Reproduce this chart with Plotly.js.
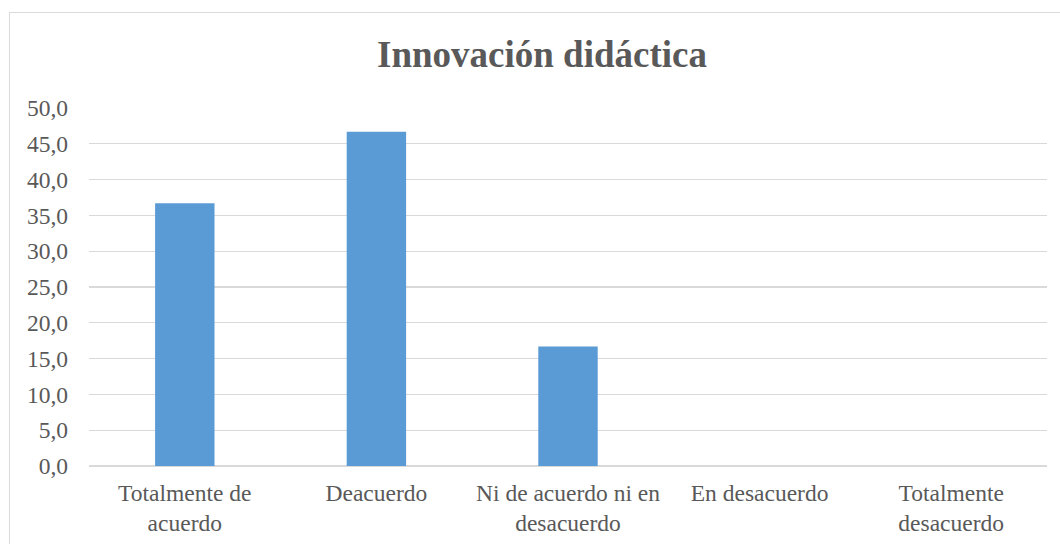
<!DOCTYPE html>
<html>
<head>
<meta charset="utf-8">
<script src="https://cdn.plot.ly/plotly-3.0.1.min.js"></script>
<style>
html,body{margin:0;padding:0;overflow:hidden;background:#fff;}
#chart{position:absolute;left:0;top:0;width:1060px;height:544px;}
#frame{position:absolute;left:9px;top:12px;width:1100px;height:600px;border:1px solid #d9d9d9;pointer-events:none;}
</style>
</head>
<body>
<div id="chart"></div>
<div id="frame"></div>
<script>
const categories = ["Totalmente de<br>acuerdo", "Deacuerdo", "Ni de acuerdo ni en<br>desacuerdo", "En desacuerdo", "Totalmente<br>desacuerdo"];
const values = [36.7, 46.7, 16.7, 0, 0];
const tickVals = [0, 5, 10, 15, 20, 25, 30, 35, 40, 45, 50];
const tickText = ["0,0", "5,0", "10,0", "15,0", "20,0", "25,0", "30,0", "35,0", "40,0", "45,0", "50,0"];
const chartTitle = "Innovación didáctica";

const font = "'Liberation Serif', 'Times New Roman', serif";
const textColor = "#595959";

Plotly.newPlot("chart", [{
  type: "bar",
  x: categories,
  y: values,
  marker: {color: "#5B9BD5"},
  hoverinfo: "x+y"
}], {
  width: 1060,
  height: 544,
  margin: {l: 89, r: 13, t: 108, b: 78, pad: 0},
  paper_bgcolor: "#ffffff",
  plot_bgcolor: "#ffffff",
  bargap: 0.69,
  showlegend: false,
  title: {
    text: "<b>" + chartTitle + "</b>",
    font: {family: font, size: 37, color: textColor},
    x: 542 / 1060,
    xref: "container",
    xanchor: "center",
    y: 1 - 54 / 544,
    yref: "container",
    yanchor: "middle"
  },
  xaxis: {
    type: "category",
    tickfont: {family: font, size: 23.5, color: textColor},
    showgrid: false,
    showline: false,
    ticks: "",
    ticklabelstandoff: 10,
    automargin: false,
    tickangle: 0
  },
  yaxis: {
    range: [0, 50],
    tickvals: tickVals,
    ticktext: tickText,
    tickfont: {family: font, size: 23.5, color: textColor},
    showgrid: true,
    gridcolor: "#d9d9d9",
    gridwidth: 1.3,
    zeroline: true,
    zerolinecolor: "#d9d9d9",
    zerolinewidth: 1.3,
    showline: false,
    ticks: "",
    ticklabelstandoff: 20,
    automargin: false,
    fixedrange: true
  }
}, {displayModeBar: false, staticPlot: true});
</script>
</body>
</html>
